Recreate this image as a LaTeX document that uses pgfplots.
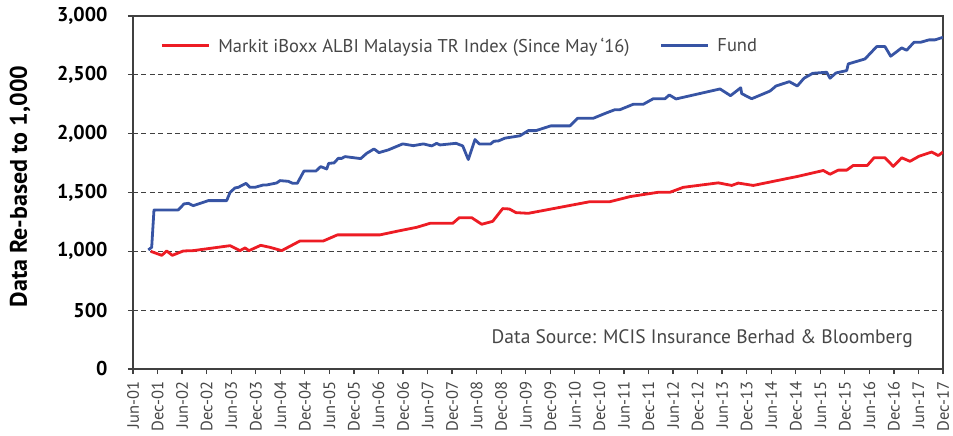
\documentclass[border=0pt]{standalone}
\usepackage{pgfplots}
\pgfplotsset{compat=1.18}
\usepackage{fontspec}
\setmainfont{PT Sans}
\definecolor{redline}{RGB}{237,28,36}
\definecolor{blueline}{RGB}{55,84,164}
\definecolor{axgray}{RGB}{64,64,64}
\definecolor{txtgray}{RGB}{70,70,70}
\begin{document}
\begin{tikzpicture}
\begin{axis}[
  name=ax,
  scale only axis,
  width=810pt, height=353pt,
  xmin=0, xmax=198, ymin=0, ymax=3000,
  xtick={0,6,...,198},
  xticklabels={Jun-01,Dec-01,Jun-02,Dec-02,Jun-03,Dec-03,Jun-04,Dec-04,Jun-05,Dec-05,Jun-06,Dec-06,Jun-07,Dec-07,Jun-08,Dec-08,Jun-09,Dec-09,Jun-10,Dec-10,Jun-11,Dec-11,Jun-12,Dec-12,Jun-13,Dec-13,Jun-14,Dec-14,Jun-15,Dec-15,Jun-16,Dec-16,Jun-17,Dec-17},
  ytick={0,500,...,3000},
  scaled y ticks=false,
  ymajorgrids,
  grid style={axgray, line width=1.2pt, dash pattern=on 5pt off 3.5pt},
  axis line style={axgray, line width=1.3pt},
  tick style={axgray, line width=1.2pt},
  tick align=outside,
  major tick length=5pt,
  xtick pos=lower, ytick pos=left,
  xticklabel shift=4pt,
  yticklabel shift=17pt,
  xticklabel style={rotate=90, anchor=east, font=\fontsize{16.5}{18}\selectfont, text=txtgray},
  yticklabel style={font=\fontsize{20}{22}\selectfont\bfseries, text=black},
  /pgf/number format/assume math mode=true,
  ylabel={Data Re-based to 1,000},
  ylabel style={font=\fontsize{24}{26}\selectfont\bfseries, at={(rel axis cs:-0.1395,0.517)}, anchor=center},
  legend style={draw=none, fill=none, at={(rel axis cs:0.03,0.916)}, anchor=west, legend columns=2, font=\fontsize{18.5}{22}\selectfont, text=txtgray, /tikz/every even column/.append style={column sep=22pt}, nodes={inner xsep=8pt}},
  legend image code/.code={\draw[#1] (0pt,0pt) -- (47pt,0pt);},
]
\addplot[redline, line width=2.8pt, line join=round] coordinates {
(4.33,1000)(7.02,966)(8.24,1003)(9.61,966)(12.30,1003)(14.74,1006)(23.71,1048)(26.16,1006)(27.38,1029)(28.36,1006)(31.22,1051)(33.49,1034)(36.35,1006)(40.82,1088)(46.52,1088)(49.99,1140)(60.38,1140)(64.46,1170)(69.35,1204)(72.60,1238)(78.15,1238)(79.76,1286)(82.79,1286)(85.24,1230)(87.93,1255)(90.37,1363)(91.99,1360)(93.62,1329)(96.63,1323)(111.71,1422)(116.60,1422)(121.49,1465)(128.41,1502)(131.27,1502)(134.52,1544)(143.08,1582)(146.35,1560)(147.96,1580)(151.63,1560)(162.63,1638)(168.74,1687)(170.38,1655)(172.41,1690)(174.46,1690)(176.07,1730)(179.50,1730)(181.13,1795)(183.82,1795)(185.85,1722)(187.90,1795)(189.93,1765)(192.13,1808)(195.24,1844)(196.85,1814)(198.0,1844)
};
\addlegendentry{Markit iBoxx ALBI Malaysia TR Index (Since May\,‘16)}
\addplot[blueline, line width=2.8pt, line join=round] coordinates {
(3.74,1012)(4.57,1034)(5.13,1352)(11.07,1352)(12.47,1403)(13.52,1408)(14.74,1388)(18.41,1431)(22.90,1431)(23.71,1500)(24.93,1539)(25.74,1544)(27.62,1578)(28.60,1544)(29.82,1544)(31.85,1564)(32.68,1564)(35.13,1581)(35.93,1601)(37.96,1595)(39.04,1578)(40.16,1578)(41.80,1683)(44.73,1683)(45.88,1720)(47.35,1700)(47.84,1748)(49.13,1751)(50.18,1790)(51.02,1790)(51.82,1805)(55.66,1788)(57.13,1833)(58.91,1870)(60.13,1839)(62.41,1862)(65.93,1913)(68.52,1898)(70.96,1913)(73.02,1896)(74.24,1918)(75.04,1904)(78.96,1918)(80.60,1896)(81.96,1780)(83.60,1950)(84.65,1913)(87.44,1913)(88.24,1936)(89.30,1938)(90.93,1962)(94.60,1982)(96.63,2026)(98.51,2026)(102.10,2066)(106.82,2066)(108.70,2131)(112.52,2131)(115.62,2175)(117.82,2204)(119.04,2204)(122.30,2250)(124.74,2250)(127.18,2297)(130.04,2297)(131.10,2329)(132.73,2295)(143.49,2380)(146.06,2323)(148.55,2390)(148.80,2340)(151.24,2297)(155.71,2362)(157.18,2405)(160.43,2442)(162.38,2405)(164.02,2471)(166.15,2513)(169.57,2522)(170.38,2471)(171.84,2516)(174.46,2536)(174.85,2593)(178.93,2635)(181.79,2740)(183.82,2740)(185.21,2658)(187.90,2729)(189.12,2709)(190.91,2777)(192.55,2777)(194.58,2797)(196.04,2797)(198.0,2819)
};
\addlegendentry{Fund}
\node[anchor=east, font=\fontsize{19.5}{22}\selectfont, text=txtgray] at (rel axis cs:0.967,0.085) {Data Source: MCIS Insurance Berhad \& Bloomberg};
\end{axis}
\pgfresetboundingbox
\path[use as bounding box] ([shift={(-133pt,-67pt)}]ax.south west) rectangle ([shift={(10pt,16pt)}]ax.north east);
\end{tikzpicture}
\end{document}
